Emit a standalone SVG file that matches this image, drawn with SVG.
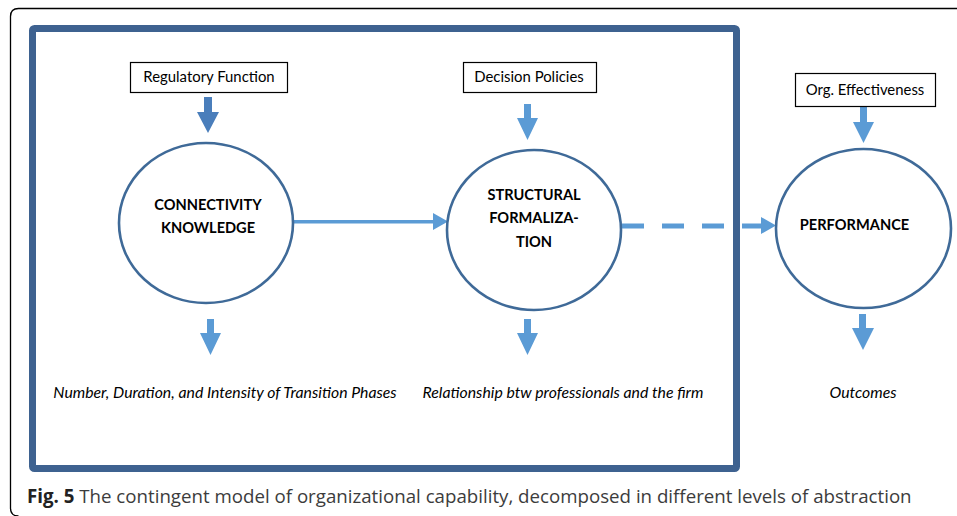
<svg xmlns="http://www.w3.org/2000/svg" width="957" height="516" viewBox="0 0 957 516">
<style>
.box{fill:#fff;stroke:#000;stroke-width:1.2}
.lbl{font-family:Lato,"Liberation Sans",sans-serif;font-size:14.9px;fill:#000;text-anchor:middle}
.node{fill:#fff;stroke:#3F6A98;stroke-width:2.6}
.nt{font-family:Lato,"Liberation Sans",sans-serif;font-size:14.6px;font-weight:bold;fill:#000;text-anchor:middle}
.it{font-family:Lato,"Liberation Sans",sans-serif;font-size:15.8px;font-style:italic;fill:#000;text-anchor:middle}
.arr{fill:#5B9BD5}
.cap{font-family:"Open Sans","Liberation Sans",sans-serif;font-size:18.7px;fill:#3c3c3c}
</style>
<rect x="0" y="0" width="957" height="516" fill="#fff"/>
<path d="M 970 8.5 L 18.5 8.5 Q 10.5 8.5 10.5 16.5 L 10.5 508 Q 10.5 516 18.5 516" fill="none" stroke="#000" stroke-width="1.3"/>
<rect x="32.5" y="28.5" width="704" height="440" rx="2" fill="none" stroke="#3E6290" stroke-width="7"/>

<g id="connectors">
  <path d="M204 97 H212 V112 H219 L208 133 L197 112 H204 Z" fill="#4A7EBB"/>
  <path class="arr" d="M524 104 H531 V118 H538 L527.5 140 L517 118 H524 Z"/>
  <path class="arr" d="M860 107 H867 V122 H874 L863.5 143 L853 122 H860 Z"/>
  <path class="arr" d="M207 319 H214 V333 H221 L210.5 355 L200 333 H207 Z"/>
  <path class="arr" d="M524 319 H531 V333 H538 L527.5 355 L517 333 H524 Z"/>
  <path class="arr" d="M859 314 H866 V328 H874 L863 350 L852 328 H859 Z"/>
  <path class="arr" d="M293 220 H433 V213 L448 221.5 L433 230 V223.5 H293 Z"/>
  <line x1="622" y1="226" x2="761" y2="226" stroke="#5B9BD5" stroke-width="5" stroke-dasharray="22 18"/>
  <path class="arr" d="M761 217 L776 225.5 L761 234 Z"/>
</g>

<g id="regulatory">
  <rect class="box" x="130.5" y="62.5" width="157" height="30"/>
  <text class="lbl" x="209" y="82">Regulatory Function</text>
</g>
<g id="decision">
  <rect class="box" x="463.5" y="62.5" width="133" height="30"/>
  <text class="lbl" x="529" y="82">Decision Policies</text>
</g>
<g id="orgeff">
  <rect class="box" x="795.5" y="73.5" width="140" height="33"/>
  <text class="lbl" x="865" y="94.5">Org. Effectiveness</text>
</g>

<g id="connectivity">
  <ellipse class="node" cx="206" cy="223" rx="87" ry="80"/>
  <text class="nt" x="208" y="210">CONNECTIVITY</text>
  <text class="nt" x="208" y="233">KNOWLEDGE</text>
</g>
<g id="structural">
  <ellipse class="node" cx="534" cy="230" rx="87" ry="80"/>
  <text class="nt" x="534" y="200">STRUCTURAL</text>
  <text class="nt" x="534" y="223">FORMALIZA-</text>
  <text class="nt" x="534" y="247">TION</text>
</g>
<g id="performance">
  <ellipse class="node" cx="863.5" cy="228.5" rx="87.5" ry="79.5"/>
  <text class="nt" x="854.5" y="230">PERFORMANCE</text>
</g>

<g id="outputs">
  <text class="it" x="225" y="398">Number, Duration, and Intensity of Transition Phases</text>
  <text class="it" x="563" y="398">Relationship btw professionals and the firm</text>
  <text class="it" x="863" y="398">Outcomes</text>
</g>

<text class="cap" x="27" y="503"><tspan font-weight="bold" fill="#222">Fig. 5</tspan> The contingent model of organizational capability, decomposed in different levels of abstraction</text>
</svg>
